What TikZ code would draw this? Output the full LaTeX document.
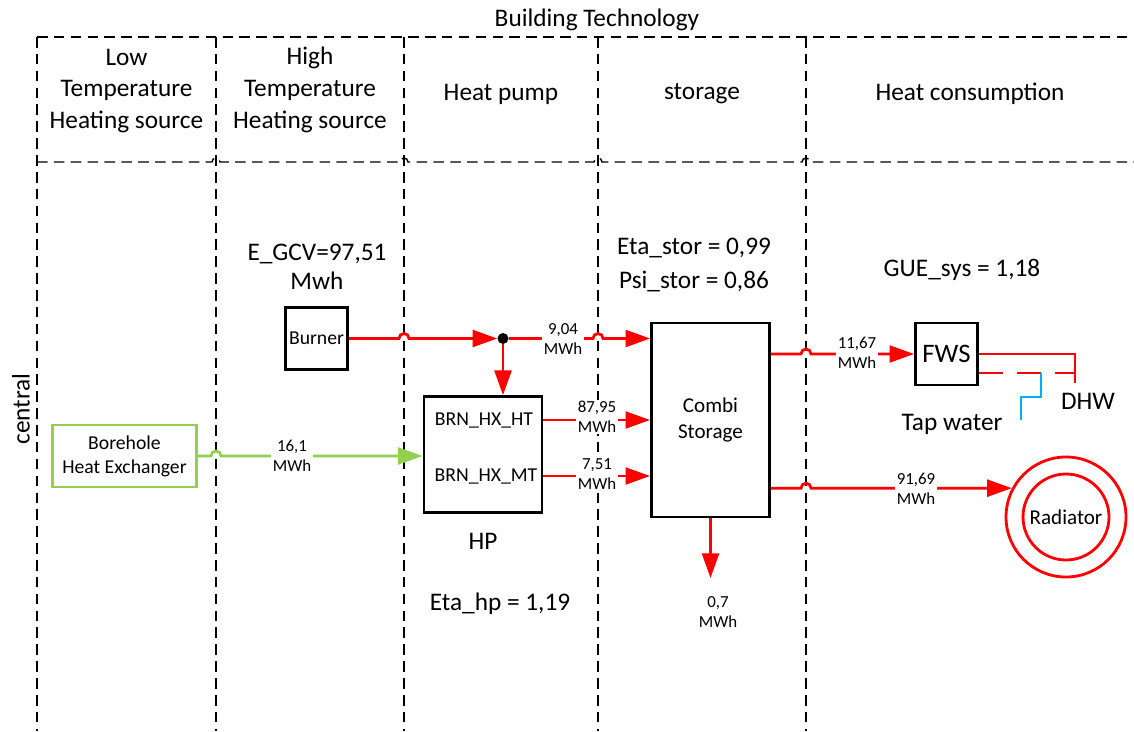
\documentclass[tikz,border=0pt]{standalone}
\usepackage{fontspec}
\setmainfont{Carlito}
\usepackage{xcolor}
\usepackage{tikz}
\usetikzlibrary{arrows.meta,positioning,calc}
\definecolor{bhegreen}{HTML}{92D050}
\definecolor{tapblue}{HTML}{00B0F0}

\begin{document}
\begin{tikzpicture}[
      x=0.25mm, y=-0.25mm,
      lane/.style={draw=black, line width=1pt, dash pattern=on 7.5pt off 4.5pt},
      head/.style={align=center, font=\fontsize{18}{22.5}\selectfont, inner sep=0pt},
      unit/.style={rectangle, draw, line width=2pt, align=center,
                   font=\fontsize{14}{17}\selectfont, inner sep=2pt},
      flow/.style={red, line width=2pt, -{Triangle[length=17.5pt,width=12pt]}},
      pipe/.style={red, line width=2pt},
      val/.style={align=center, font=\fontsize{12}{14}\selectfont, fill=white, inner sep=1pt},
    ]
    \useasboundingbox (0,0) rectangle (1134,731);

    % swim lanes
    \coordinate (l1) at (37,37);
    \coordinate (l2) at (216,37);
    \coordinate (l3) at (404,37);
    \coordinate (l4) at (598,37);
    \coordinate (l5) at (806,37);
    \coordinate (r) at (1134,37);
    \coordinate (d) at (37,162);
    \coordinate (b) at (37,731);
    \draw[lane] (l1) -- (r);
    \foreach \c in {l1,l2,l3,l4,l5} \draw[lane] (\c) -- (\c |- b);
    \draw[lane] (d) \foreach \c in {l2,l3,l4,l5} { -- ($(\c |- d)+(-4,0)$) arc[start angle=180, end angle=0, radius=1mm] } -- (r |- d);

    \node[head] (title)   at (597,20)    {Building Technology};
    \node[head, rotate=90] (central) at (21,409) {central};
    \node[head] (lowcol)  at (126.5,91)  {Low\\Temperature\\Heating source};
    \node[head] (highcol) at (310,90)    {High\\Temperature\\Heating source};
    \node[head] (hpcol)   at (501,94)    {Heat pump};
    \node[head] (storcol) at (702,94)    {storage};
    \node[head] (conscol) at (970,94)    {Heat consumption};

    % components
    \node[unit, minimum width=15.5mm, minimum height=15.5mm] (burner) at (316.5,338.5) {Burner};
    \node[unit, draw=bhegreen, minimum width=36mm, minimum height=15.5mm] (bhe) at (124.5,456) {Borehole\\Heat Exchanger};
    \node[unit, minimum width=29.5mm, minimum height=29mm] (hp) at (483,454.5) {};
    \node[font=\fontsize{14}{17}\selectfont] (ht) at (484,420) {BRN\_HX\_HT};
    \node[font=\fontsize{14}{17}\selectfont] (mt) at (486,476) {BRN\_HX\_MT};
    \node[unit, minimum width=29.5mm, minimum height=48.5mm, font=\fontsize{15}{19}\selectfont] (stor) at (710.5,420) {Combi\\Storage};
    \node[unit, minimum width=15.5mm, minimum height=15.5mm, font=\fontsize{19}{23}\selectfont] (fws) at (946.5,354) {FWS};
    \node[circle, draw=red, line width=2pt, minimum size=30mm] (rad) at (1066,517) {};
    \node[circle, draw=red, line width=2pt, minimum size=21.5mm, inner sep=0pt,
          font=\fontsize{15}{18}\selectfont] (radin) at (rad) {Radiator};
    \node[circle, fill=black, inner sep=0pt, minimum size=2.75mm] (jn) at (503,338.5) {};

    % parameters
    \node[head, font=\fontsize{18}{21}\selectfont] (egcv) at (317,267) {E\_GCV=97,51\\Mwh};
    \node[head, font=\fontsize{18}{24}\selectfont] (storpar) at (694,265) {Eta\_stor = 0,99\\Psi\_stor = 0,86};
    \node[head] (gue)     at (962,270) {GUE\_sys = 1,18};
    \node[head] (hplabel) at (483,541) {HP};
    \node[head] (etahp)   at (500,604) {Eta\_hp = 1,19};
    \node[head] (tapw)    at (952,424) {Tap water};
    \node[head] (dhw)     at (1088,401) {DHW};

    % flows
    \coordinate (loss) at (710.5,578);
    \coordinate (dhwend) at (1075,383);
    \coordinate (tap) at (1041,373);
    \coordinate (tapend) at (1021,420);

    \draw[flow] (burner) -- ($(burner.east -| l3)+(-5,0)$) arc[start angle=180, end angle=0, radius=1.25mm] -- (jn);
    \draw[flow] (jn) -- ($(jn -| l4)+(-5,0)$) arc[start angle=180, end angle=0, radius=1.25mm] -- (jn -| stor.west);
    \draw[flow] (jn) -- (jn |- hp.north);
    \draw[flow] (hp.east |- ht) -- (stor.west |- ht);
    \draw[flow] (hp.east |- mt) -- (stor.west |- mt);
    \draw[flow, bhegreen] (bhe) -- ($(bhe.east -| l2)+(-5,0)$) arc[start angle=180, end angle=0, radius=1.25mm] -- (bhe -| hp.west);
    \draw[flow] (stor.east |- fws) -- ($(fws -| l5)+(-5,0)$) arc[start angle=180, end angle=0, radius=1.25mm] -- (fws);
    \draw[flow] (stor.east |- rad.152) -- ($(rad.152 -| l5)+(-5,0)$) arc[start angle=180, end angle=0, radius=1.25mm] -- (rad.152);
    \draw[flow] (stor) -- (loss);

    \draw[pipe] (fws) -- (fws -| dhwend) -- (dhwend);
    \draw[pipe, dash pattern=on 17pt off 10pt] (fws.east |- tap) -- (dhwend |- tap);
    \draw[tapblue, line width=2pt] (tap) -- ++(0,24) -| (tapend);

    % flow values
    \node[val] (v904)  at (563,339)  {9,04\\MWh};
    \node[val] (v8795) at (597,417)  {87,95\\MWh};
    \node[val] (v751)  at (597,474)  {7,51\\MWh};
    \node[val] (v161)  at (292,456)  {16,1\\MWh};
    \node[val] (v1167) at (857,353)  {11,67\\MWh};
    \node[val] (v9169) at (916,489)  {91,69\\MWh};
    \node[val] (v07)   at (718,612)  {0,7\\MWh};
  \end{tikzpicture}
\end{document}
